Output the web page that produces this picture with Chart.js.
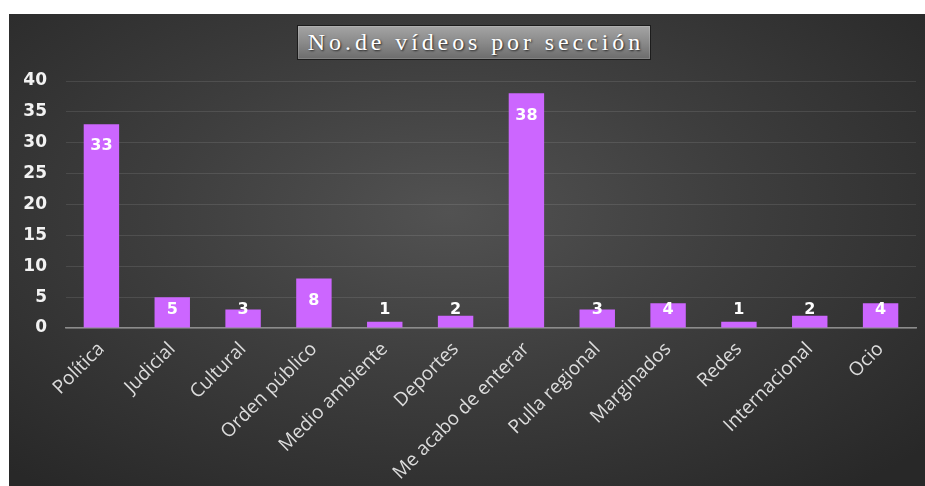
<!DOCTYPE html>
<html>
<head>
<meta charset="utf-8">
<script src="https://cdn.jsdelivr.net/npm/chart.js@4"></script>
<style>
  html, body { margin: 0; padding: 0; background: #ffffff; width: 925px; height: 486px; overflow: hidden; }
  #panel {
    position: absolute; left: 9px; top: 14px; width: 916px; height: 472px;
    background: radial-gradient(ellipse 70% 75% at 48% 42%, #525252 0%, #3e3e3e 45%, #282828 100%);
  }
  #title {
    position: absolute; left: 297px; top: 25px; width: 354px; height: 35px; box-sizing: border-box;
    border: 1px solid #1c1c1c;
    background: linear-gradient(#a4a4a4, #8a8a8a 50%, #6c6c6c);
    box-shadow: inset 0 0 0 1px rgba(255,255,255,0.15);
    color: #ffffff; font-family: "Liberation Serif", "DejaVu Serif", serif; font-size: 24px;
    letter-spacing: 3.9px; padding-left: 3.9px; text-align: center; line-height: 33px; white-space: nowrap;
    text-shadow: 1px 1px 2px rgba(0,0,0,0.7);
  }
  canvas { position: absolute; left: 0; top: 0; }
</style>
</head>
<body>
<div id="panel"><canvas id="c" width="916" height="472"></canvas></div>
<div id="title">No.de vídeos por sección</div>
<script>
const categories = ["Política", "Judicial", "Cultural", "Orden público", "Medio ambiente", "Deportes",
  "Me acabo de enterar", "Pulla regional", "Marginados", "Redes", "Internacional", "Ocio"];
const videoCounts = [33, 5, 3, 8, 1, 2, 38, 3, 4, 1, 2, 4];
const yTicks = [0, 5, 10, 15, 20, 25, 30, 35, 40];

const labelPlugin = {
  id: 'barLabels',
  afterDatasetsDraw(chart) {
    const ctx = chart.ctx;
    const meta = chart.getDatasetMeta(0);
    ctx.save();
    ctx.font = 'bold 16px "DejaVu Sans", sans-serif';
    ctx.fillStyle = '#ffffff';
    ctx.textAlign = 'center';
    ctx.textBaseline = 'middle';
    meta.data.forEach((bar, i) => {
      const y = Math.min(bar.y + 22, bar.base - 18);
      ctx.fillText(String(videoCounts[i]), bar.x, y);
    });
    ctx.restore();
  }
};

new Chart(document.getElementById('c'), {
  type: 'bar',
  data: {
    labels: categories,
    datasets: [{
      data: videoCounts,
      backgroundColor: '#cc66ff',
      borderWidth: 0,
      barPercentage: 0.5,
      categoryPercentage: 1.0
    }]
  },
  options: {
    responsive: false,
    animation: false,
    events: [],
    layout: { padding: { top: 67, right: 9, left: 0, bottom: 0 } },
    plugins: { legend: { display: false }, title: { display: false }, tooltip: { enabled: false } },
    scales: {
      x: {
        afterFit: (s) => { s.height = 158; },
        grid: { display: false, drawTicks: false },
        border: { display: true, color: '#8c8c8c', width: 1.5 },
        ticks: {
          color: '#dcdcdc',
          font: { family: '"Open Sans", sans-serif', size: 19 },
          maxRotation: 45, minRotation: 45, autoSkip: false, padding: 10
        }
      },
      y: {
        min: 0, max: 40,
        afterFit: (s) => { s.width = 57; },
        afterBuildTicks: (s) => { s.ticks = yTicks.map(v => ({ value: v })); },
        grid: { color: 'rgba(255,255,255,0.10)', lineWidth: 1, drawTicks: false },
        border: { display: false },
        ticks: {
          color: '#f2f2f2',
          font: { family: '"DejaVu Sans", sans-serif', size: 17, weight: 'bold' },
          padding: 19
        }
      }
    }
  },
  plugins: [labelPlugin]
});
</script>
</body>
</html>
